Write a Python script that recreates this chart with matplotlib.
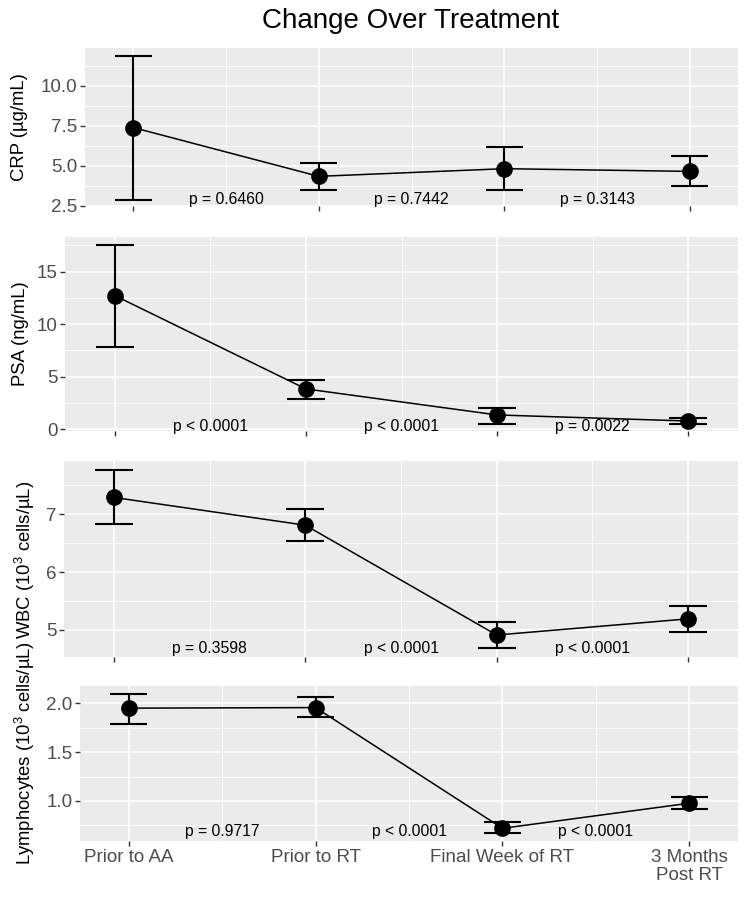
import matplotlib
matplotlib.use("Agg")
import matplotlib.pyplot as plt
from matplotlib.ticker import FixedLocator

plt.rcParams['font.family'] = ['Liberation Sans', 'DejaVu Sans']
plt.rcParams['mathtext.fontset'] = 'custom'
plt.rcParams['mathtext.rm'] = 'Liberation Sans'
plt.rcParams['mathtext.it'] = 'Liberation Sans'

# time points
timepoints = ['Prior to AA', 'Prior to RT', 'Final Week of RT', '3 Months\nPost RT']
xpos = [1, 2, 3, 4]
p_xpos = [1.5, 2.5, 3.5]

# CRP
crp_mean = [7.39, 4.33, 4.81, 4.64]
crp_lo = [2.85, 3.50, 3.50, 3.75]
crp_hi = [11.88, 5.17, 6.14, 5.58]
crp_p = ['p = 0.6460', 'p = 0.7442', 'p = 0.3143']

# PSA
psa_mean = [12.72, 3.82, 1.34, 0.76]
psa_lo = [7.85, 2.86, 0.48, 0.50]
psa_hi = [17.56, 4.68, 2.03, 1.02]
psa_p = ['p < 0.0001', 'p < 0.0001', 'p = 0.0022']

# WBC
wbc_mean = [7.29, 6.81, 4.91, 5.19]
wbc_lo = [6.83, 6.54, 4.69, 4.97]
wbc_hi = [7.77, 7.09, 5.13, 5.42]
wbc_p = ['p = 0.3598', 'p < 0.0001', 'p < 0.0001']

# lymphocytes
lym_mean = [1.95, 1.956, 0.72, 0.977]
lym_lo = [1.79, 1.86, 0.67, 0.915]
lym_hi = [2.10, 2.06, 0.78, 1.04]
lym_p = ['p = 0.9717', 'p < 0.0001', 'p < 0.0001']

W, H = 750, 900
fig = plt.figure(figsize=(7.5, 9), dpi=100)

def box(l, t, r, b):
    return [l / W, 1 - b / H, (r - l) / W, (b - t) / H]

panels = [
    dict(rect=box(85, 48, 738, 206), m=crp_mean, lo=crp_lo, hi=crp_hi, p=crp_p,
         ylim=(2.47, 12.38), ticks=[2.5, 5.0, 7.5, 10.0], tl=['2.5', '5.0', '7.5', '10.0'],
         py=2.85, lab='CRP (µg/mL)', labx=20, laby=127),
    dict(rect=box(65, 237, 738, 431), m=psa_mean, lo=psa_lo, hi=psa_hi, p=psa_p,
         ylim=(-0.19, 18.3), ticks=[0, 5, 10, 15], tl=['0', '5', '10', '15'],
         py=0.22, lab='PSA (ng/mL)', labx=21, laby=334),
    dict(rect=box(64, 461, 738, 657), m=wbc_mean, lo=wbc_lo, hi=wbc_hi, p=wbc_p,
         ylim=(4.53, 7.92), ticks=[5, 6, 7], tl=['5', '6', '7'],
         py=4.67, lab=r'WBC (10$^3$ cells/µL)', labx=25, laby=560),
    dict(rect=box(80, 686, 738, 841), m=lym_mean, lo=lym_lo, hi=lym_hi, p=lym_p,
         ylim=(0.59, 2.177), ticks=[1.0, 1.5, 2.0], tl=['1.0', '1.5', '2.0'],
         py=0.685, lab=r'Lymphocytes (10$^3$ cells/µL)', labx=25, laby=753),
]

for i, pn in enumerate(panels):
    ax = fig.add_axes(pn['rect'])
    ax.set_facecolor('#EBEBEB')
    for s in ax.spines.values():
        s.set_visible(False)
    ax.set_xlim(0.74, 4.26)
    ax.set_ylim(*pn['ylim'])

    ax.set_xticks(xpos)
    ax.xaxis.set_minor_locator(FixedLocator([1.5, 2.5, 3.5]))
    step = pn['ticks'][1] - pn['ticks'][0]
    minors = [t + step / 2 for t in [pn['ticks'][0] - step] + pn['ticks']]
    ax.set_yticks(pn['ticks'])
    ax.set_yticklabels(pn['tl'])
    ax.yaxis.set_minor_locator(FixedLocator(minors))
    ax.set_axisbelow(True)
    ax.grid(which='major', color='white', lw=1.2)
    ax.grid(which='minor', color='white', lw=0.6)
    ax.tick_params(which='major', length=3.5, width=1, color='#333333',
                   labelsize=13.5, labelcolor='#4D4D4D', pad=2)
    ax.tick_params(which='minor', length=0)
    if i == 3:
        ax.set_xticklabels(timepoints, linespacing=1.1)
    else:
        ax.set_xticklabels([])

    # error bars
    ax.vlines(xpos, pn['lo'], pn['hi'], color='black', lw=1.5, zorder=3)
    ax.hlines(pn['lo'], [x - 0.1 for x in xpos], [x + 0.1 for x in xpos], color='black', lw=1.5, zorder=3)
    ax.hlines(pn['hi'], [x - 0.1 for x in xpos], [x + 0.1 for x in xpos], color='black', lw=1.5, zorder=3)
    ax.plot(xpos, pn['m'], color='black', lw=1.1, zorder=3)
    ax.plot(xpos, pn['m'], 'o', color='black', ms=11, zorder=4)

    for xp, txt in zip(p_xpos, pn['p']):
        ax.text(xp, pn['py'], txt, ha='center', va='center', fontsize=11.3, color='black')

    fig.text(pn['labx'] / W, 1 - pn['laby'] / H, pn['lab'], rotation=90,
             ha='center', va='center', fontsize=13.3, color='black')

fig.text(411 / W, 1 - 21 / H, 'Change Over Treatment', ha='center', va='center',
         fontsize=20, color='black')

fig.savefig('out.png', dpi=100)
